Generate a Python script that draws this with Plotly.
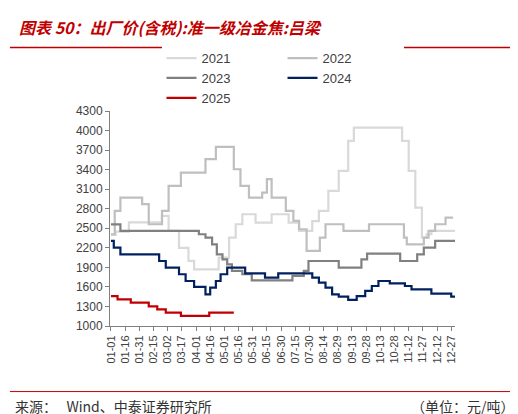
import plotly.graph_objects as go

tick_vals = list(range(0, 361, 15))
tick_text = ["01-01","01-16","01-31","02-15","03-02","03-17","04-01","04-16","05-01","05-16","05-31","06-15","06-30","07-15","07-30","08-14","08-29","09-13","09-28","10-13","10-28","11-12","11-27","12-12","12-27"]

d2021 = [0,5,19,54,61,72,82,88,114,125,132,139,153,170,188,199,213,220,230,241,251,257,308,315,322,329,334,339,364]
v2021 = [2400,2450,2590,2690,2460,2200,2000,1870,2050,2357,2562,2715,2587,2715,2587,2459,2610,2766,3074,3381,3842,4046,3842,3381,2818,2357,2408,2459,2459]
d2022 = [0,4,10,33,40,54,61,74,100,111,130,137,146,160,165,170,185,193,199,207,221,227,246,273,310,313,331,336,343,354,362]
v2022 = [2408,2766,2970,2870,2562,2766,3150,3355,3560,3750,3406,3150,2970,3048,3253,2970,2766,2613,2485,2152,2357,2562,2459,2562,2357,2254,2357,2459,2562,2664,2664]
d2023 = [0,10,93,100,107,112,118,123,128,139,149,192,204,209,241,265,271,306,324,331,343,364]
v2023 = [2560,2459,2408,2357,2254,2100,2024,1947,1845,1794,1700,1768,1845,1998,1896,2024,2111,1998,2100,2203,2306,2306]
d2024 = [0,3,10,51,58,72,79,88,100,105,111,116,123,142,163,177,213,220,227,234,241,251,260,269,276,283,295,311,318,339,360,364]
v2024 = [2306,2203,2100,1998,1896,1794,1691,1600,1486,1589,1691,1794,1896,1809,1742,1809,1742,1665,1589,1486,1450,1400,1460,1538,1614,1691,1655,1614,1563,1497,1450,1450]
d2025 = [0,7,21,40,49,58,74,104,130]
v2025 = [1460,1410,1360,1300,1256,1205,1154,1205,1205]

series = [("2021", d2021, v2021, "#d9d9d9"), ("2022", d2022, v2022, "#bfbfbf"),
          ("2023", d2023, v2023, "#808080"), ("2024", d2024, v2024, "#002060"),
          ("2025", d2025, v2025, "#c00000")]

fig = go.Figure()
for name, d, v, c in series:
    fig.add_trace(go.Scatter(x=d, y=v, name=name, mode="lines", line=dict(color=c, width=2.2, shape="hv")))

fig.update_layout(
    width=518, height=414, paper_bgcolor="white", plot_bgcolor="white",
    margin=dict(l=102, r=71, t=103, b=96),
    font=dict(family="Noto Sans CJK SC, Arial", size=12, color="#333"),
    showlegend=True,
    legend=dict(orientation="h", x=0.5, xanchor="center", y=1.153, yanchor="middle",
                entrywidth=76, entrywidthmode="pixels", itemwidth=30,
                font=dict(size=13, color="#404040", family="Liberation Sans, Arial")),
    xaxis=dict(range=[-1, 364], tickvals=tick_vals, ticktext=tick_text, tickangle=-90,
               showgrid=False, showline=True, linecolor="#808080", ticks="outside", ticklen=4,
               tickcolor="#808080", tickfont=dict(size=11, color="#404040", family="Liberation Sans, Arial")),
    yaxis=dict(range=[1000, 4300], tickvals=list(range(1000, 4301, 300)), showgrid=False,
               showline=True, linecolor="#808080", ticks="outside", ticklen=4, tickcolor="#808080",
               tickfont=dict(size=12, color="#404040", family="Liberation Sans, Arial")),
)
fig.add_annotation(xref="paper", yref="paper", x=-0.27, y=1.39, xanchor="left", yanchor="middle",
                   text="<b><i>图表 50：出厂价(含税):准一级冶金焦:吕梁</i></b>", showarrow=False,
                   font=dict(size=16, color="#c00000"))
fig.add_shape(type="line", xref="paper", yref="paper", x0=-0.29, x1=1.2, y0=1.295, y1=1.295,
              line=dict(color="#c00000", width=1.5))
fig.add_shape(type="line", xref="paper", yref="paper", x0=-0.29, x1=1.2, y0=-0.305, y1=-0.305,
              line=dict(color="#c00000", width=1))
fig.add_annotation(xref="paper", yref="paper", x=-0.28, y=-0.372, xanchor="left", yanchor="middle",
                   text="来源：   Wind、中泰证券研究所", showarrow=False, font=dict(size=14, color="#333"))
fig.add_annotation(xref="paper", yref="paper", x=1.18, y=-0.372, xanchor="right", yanchor="middle",
                   text="（单位：元/吨）", showarrow=False, font=dict(size=14, color="#333"))
fig.write_html("out.html")
